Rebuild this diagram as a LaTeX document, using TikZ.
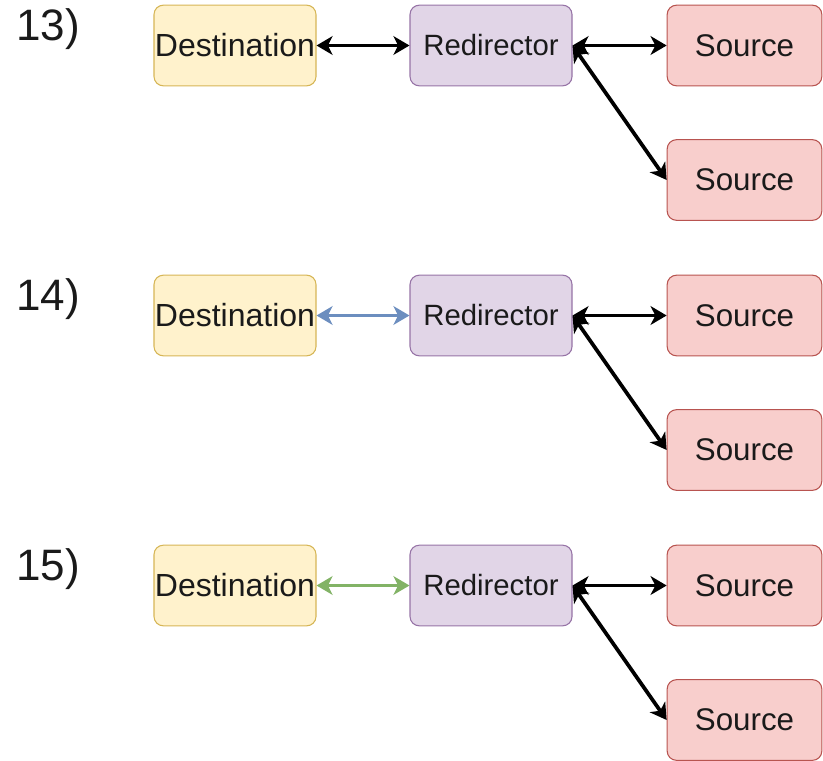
\documentclass[tikz,border=0pt]{standalone}
\usepackage{fontspec}
\setmainfont{Liberation Sans}
\usetikzlibrary{arrows.meta}
\definecolor{dstfill}{HTML}{FFF2CC}
\definecolor{dstline}{HTML}{D6B656}
\definecolor{redfill}{HTML}{E1D5E7}
\definecolor{redline}{HTML}{9673A6}
\definecolor{srcfill}{HTML}{F8CECC}
\definecolor{srcline}{HTML}{B85450}
\definecolor{linkblue}{HTML}{6C8EBF}
\definecolor{linkgreen}{HTML}{82B366}
\definecolor{ink}{HTML}{1A1A1A}
\tikzset{
  box/.style={rectangle, rounded corners=7pt, line width=0.8pt, inner sep=0pt,
    minimum height=60.5pt, text=ink},
  dstbox/.style={box, fill=dstfill, draw=dstline, minimum width=121.5pt, font=\fontsize{24}{28}\selectfont},
  redbox/.style={box, fill=redfill, draw=redline, minimum width=121.5pt, font=\fontsize{22}{26}\selectfont},
  srcbox/.style={box, fill=srcfill, draw=srcline, minimum width=116pt, font=\fontsize{23.5}{28}\selectfont},
  rowlabel/.style={font=\fontsize{33}{38}\selectfont, text=ink, inner sep=0pt},
  link/.style={line width=2.8pt, {Stealth[length=12pt,width=14pt,inset=3.5pt]}-{Stealth[length=12pt,width=14pt,inset=3.5pt]}}
}
\begin{document}
\begin{tikzpicture}[x=0.75pt, y=-0.75pt]
  \useasboundingbox (0,0) rectangle (823,760);
  \foreach \n/\dy/\col in {13/0/black, 14/270/linkblue, 15/540/linkgreen} {
    \begin{scope}[yshift=-\dy*0.75pt]
      \node[rowlabel] (lab\n) at (48,29) {\n)};
      \node[dstbox] (dst\n) at (235,45.5) {Destination};
      \node[redbox] (red\n) at (491,45.5) {Redirector};
      \node[srcbox] (srcA\n) at (744.5,45.5) {Source};
      \node[srcbox] (srcB\n) at (744.5,180) {Source};
      \draw[link, draw=\col, fill=\col] (dst\n.east) -- (red\n.west);
      \draw[link] (red\n.east) -- (srcA\n.west);
      \draw[link] (red\n.east) -- (srcB\n.west);
    \end{scope}
  }
\end{tikzpicture}
\end{document}
